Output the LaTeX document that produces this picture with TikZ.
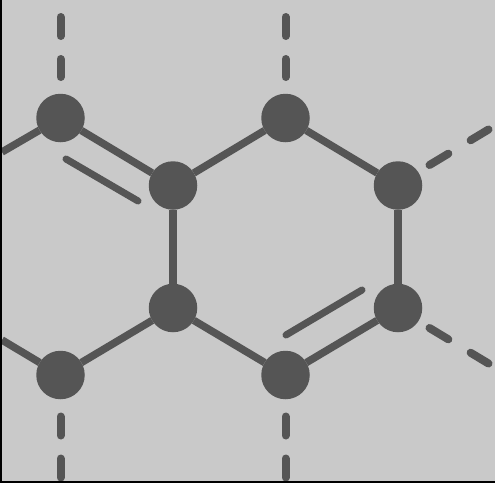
\documentclass[tikz,border=0pt]{standalone}
\tikzset{
  atom/.style={circle,fill=atomgray,draw=none,minimum size=48.5pt,inner sep=0pt,outer sep=0pt},
  bond/.style={draw=atomgray,line width=7.5pt},
  inner bond/.style={draw=atomgray,line width=7pt,line cap=round},
  dash bond/.style={draw=atomgray,line width=8pt,line cap=round,dash pattern=on 19pt off 23pt},
  slant dash bond/.style={draw=atomgray,line width=8pt,line cap=round,dash pattern=on 22pt off 26pt}
}
\definecolor{atomgray}{HTML}{555555}
\definecolor{bggray}{HTML}{C9C9C9}
\begin{document}
\begin{tikzpicture}[x=1pt,y=-1pt]
\useasboundingbox (0,0) rectangle (495,482);
\clip (0,0) rectangle (495,482);
\fill[bggray] (0,0) rectangle (495,482);
\node[atom] (a) at (60.5,118) {};
\node[atom] (b) at (285.5,118) {};
\node[atom] (c) at (173,185.5) {};
\node[atom] (d) at (398,185.5) {};
\node[atom] (e) at (173,308) {};
\node[atom] (f) at (398,308) {};
\node[atom] (g) at (60.5,375) {};
\node[atom] (h) at (285.5,375) {};
\coordinate (l1) at (2,152);
\coordinate (l2) at (2,340);
\coordinate (i1) at (66,159);
\coordinate (i2) at (138,201);
\coordinate (i3) at (286,335);
\coordinate (i4) at (362,290);
\coordinate (t1a) at (60.5,17);
\coordinate (t1b) at (60.5,77);
\coordinate (t2a) at (285.5,17);
\coordinate (t2b) at (285.5,77);
\coordinate (r1a) at (429.5,165);
\coordinate (r1b) at (488.5,129.5);
\coordinate (r2a) at (429.5,328);
\coordinate (r2b) at (488.5,363.5);
\coordinate (b1a) at (60.5,416.5);
\coordinate (b1b) at (60.5,495);
\coordinate (b2a) at (285.5,416.5);
\coordinate (b2b) at (285.5,495);
\draw[bond] (l1) -- (a);
\draw[bond] (a) -- (c);
\draw[bond] (c) -- (b);
\draw[bond] (b) -- (d);
\draw[bond] (c) -- (e);
\draw[bond] (d) -- (f);
\draw[bond] (e) -- (g);
\draw[bond] (e) -- (h);
\draw[bond] (h) -- (f);
\draw[bond] (l2) -- (g);
\draw[inner bond] (i1) -- (i2);
\draw[inner bond] (i3) -- (i4);
\draw[dash bond] (t1a) -- (t1b);
\draw[dash bond] (t2a) -- (t2b);
\draw[slant dash bond] (r1a) -- (r1b);
\draw[slant dash bond] (r2a) -- (r2b);
\draw[dash bond] (b1a) -- (b1b);
\draw[dash bond] (b2a) -- (b2b);
\draw[black,line width=3pt] (0,0) -- (0,482);
\draw[black,line width=2pt] (0,482) -- (495,482);
\end{tikzpicture}
\end{document}
